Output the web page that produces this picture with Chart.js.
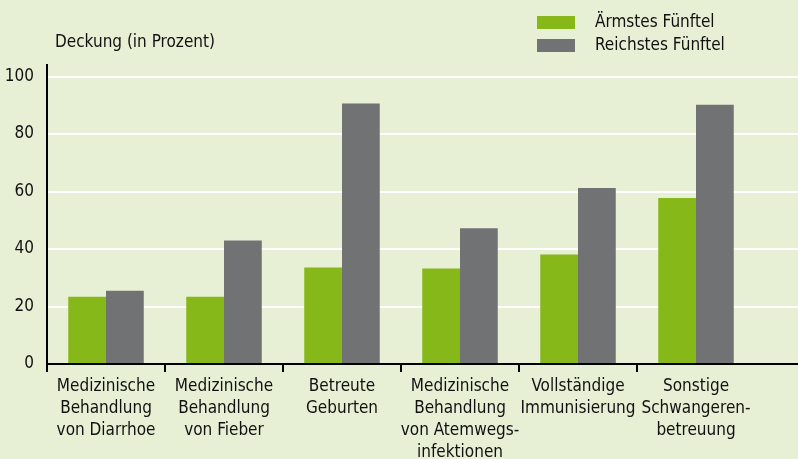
<!DOCTYPE html>
<html>
<head>
<meta charset="utf-8">
<script src="https://cdn.jsdelivr.net/npm/chart.js@4"></script>
<style>
  html, body { margin: 0; padding: 0; background: #E7F0D5; }
  #wrap { width: 798px; height: 459px; }
</style>
</head>
<body>
<div id="wrap"><canvas id="barChart" width="798" height="459"></canvas></div>
<script>
var categories = [
    ["Medizinische", "Behandlung", "von Diarrhoe"],
    ["Medizinische", "Behandlung", "von Fieber"],
    ["Betreute", "Geburten"],
    ["Medizinische", "Behandlung", "von Atemwegs-", "infektionen"],
    ["Vollständige", "Immunisierung"],
    ["Sonstige", "Schwangeren-", "betreuung"]
];
var poorest = [23.4, 23.4, 33.6, 33.2, 38.1, 57.7];
var richest = [25.5, 43.0, 90.6, 47.2, 61.2, 90.2];
var seriesLabels = ["Ärmstes Fünftel", "Reichstes Fünftel"];
var yTicks = [0, 20, 40, 60, 80, 100];

var FONT = "'DejaVu Sans Condensed', 'Liberation Sans Narrow', sans-serif";
var green = "#86B81A";
var grey = "#717274";

// background, axis title, legend, grid extension to the right edge
var extras = {
    id: "extras",
    beforeDraw: function(chart) {
        var ctx = chart.ctx;
        ctx.save();
        ctx.fillStyle = "#E7F0D5";
        ctx.fillRect(0, 0, chart.width, chart.height);
        ctx.restore();
    },
    beforeDatasetsDraw: function(chart) {
        var ctx = chart.ctx, y = chart.scales.y, area = chart.chartArea;
        ctx.save();
        ctx.strokeStyle = "#ffffff";
        ctx.lineWidth = 2;
        yTicks.forEach(function(v) {
            if (v === 0) return;
            var py = Math.round(y.getPixelForValue(v));
            ctx.beginPath();
            ctx.moveTo(area.right, py);
            ctx.lineTo(chart.width, py);
            ctx.stroke();
        });
        ctx.restore();
    },
    afterDraw: function(chart) {
        var ctx = chart.ctx, y = chart.scales.y, area = chart.chartArea;
        ctx.save();
        var py = Math.round(y.getPixelForValue(0));
        ctx.strokeStyle = "#000000";
        ctx.lineWidth = 2;
        ctx.beginPath();
        ctx.moveTo(area.right - 1, py);
        ctx.lineTo(chart.width, py);
        ctx.stroke();

        ctx.fillStyle = "#111111";
        ctx.font = "17px " + FONT;
        ctx.textBaseline = "middle";
        ctx.textAlign = "left";
        ctx.fillText("Deckung (in Prozent)", 55, 43);

        var colors = [green, grey];
        seriesLabels.forEach(function(lbl, i) {
            ctx.fillStyle = colors[i];
            ctx.fillRect(537, 16 + i * 23, 38, 13);
            ctx.fillStyle = "#111111";
            ctx.fillText(lbl, 595, 22.5 + i * 23);
        });
        ctx.restore();
    }
};

var ctx = document.getElementById("barChart").getContext("2d");
var barChart = new Chart(ctx, {
    type: "bar",
    data: {
        labels: categories,
        datasets: [
            { label: seriesLabels[0], data: poorest, backgroundColor: green },
            { label: seriesLabels[1], data: richest, backgroundColor: grey }
        ]
    },
    options: {
        responsive: false,
        animation: false,
        devicePixelRatio: 1,
        layout: { padding: { top: 65, right: 43, left: 0, bottom: 0 } },
        datasets: {
            bar: { categoryPercentage: 0.64, barPercentage: 1.0, borderWidth: 0 }
        },
        plugins: {
            legend: { display: false },
            tooltip: { enabled: false }
        },
        scales: {
            x: {
                afterFit: function(scale) { scale.height = 95; },
                grid: {
                    offset: true,
                    drawOnChartArea: false,
                    drawTicks: true,
                    tickLength: 8,
                    lineWidth: 2,
                    color: function(c) { return c.type === "tick" ? "#000000" : "rgba(0,0,0,0)"; }
                },
                border: { display: true, color: "#000000", width: 2 },
                ticks: {
                    color: "#111111",
                    padding: 4,
                    maxRotation: 0,
                    autoSkip: false,
                    font: { family: FONT, size: 17, lineHeight: 1.29 }
                }
            },
            y: {
                min: 0,
                max: 104,
                afterFit: function(scale) { scale.width = 47; },
                grid: {
                    color: function(c) { return c.tick && c.tick.value === 0 ? "rgba(0,0,0,0)" : "#ffffff"; },
                    lineWidth: 2,
                    drawTicks: false
                },
                border: { display: true, color: "#000000", width: 2 },
                ticks: {
                    stepSize: 20,
                    includeBounds: false,
                    padding: 13,
                    color: "#111111",
                    font: { family: FONT, size: 17 }
                }
            }
        }
    },
    plugins: [extras]
});
</script>
</body>
</html>
